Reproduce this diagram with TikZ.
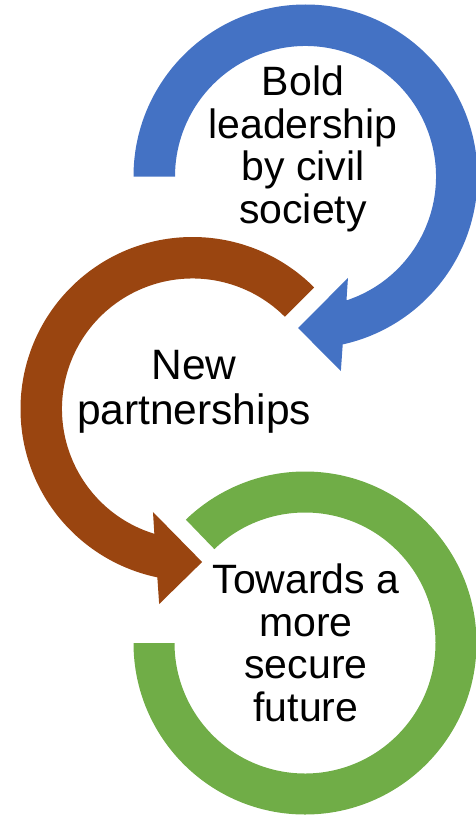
\documentclass[tikz,border=0pt]{standalone}
\usepackage{fontspec}
\setmainfont{Liberation Sans}
\definecolor{arrblue}{HTML}{4472C4}
\definecolor{arrbrown}{HTML}{9A4510}
\definecolor{arrgreen}{HTML}{70AD47}
\tikzset{lbl/.style={align=center, inner sep=0pt, anchor=north, text=black, font=\fontsize{41}{42.5}\selectfont},
  lblbig/.style={lbl, font=\fontsize{42.5}{45}\selectfont}}
\begin{document}
\begin{tikzpicture}[x=1pt,y=1pt]
\useasboundingbox (0,0) rectangle (476,-816);
\coordinate (cb) at (305.5,-176.5);
\coordinate (cr) at (192.5,-409);
\coordinate (cg) at (305,-643);
% blue circular arrow (clockwise)
\fill[arrblue] ([shift={(180:172)}]cb) arc[start angle=180,end angle=-77.5,radius=172]
  -- ([shift={(-79.7:197.7)}]cb) -- ([shift={(-92.8:151.7)}]cb) -- ([shift={(-67.3:110)}]cb)
  -- ([shift={(-71.7:130.5)}]cb) arc[start angle=-71.7,end angle=180,radius=130.5] -- cycle;
% brown circular arrow (counter-clockwise)
\fill[arrbrown] ([shift={(45:172)}]cr) arc[start angle=45,end angle=258.2,radius=172]
  -- ([shift={(260.3:197.9)}]cr) -- ([shift={(273.6:153.3)}]cr) -- ([shift={(249:110.3)}]cr)
  -- ([shift={(253:130.5)}]cr) arc[start angle=253,end angle=45,radius=130.5] -- cycle;
% green open ring
\fill[arrgreen] ([shift={(180:171.5)}]cg) arc[start angle=180,end angle=494,radius=171.5]
  -- ([shift={(134:130.5)}]cg) arc[start angle=494,end angle=180,radius=130.5] -- cycle;
\node[lbl] (tb) at (303,-66) {Bold\\leadership\\by civil\\society};
\node[lblbig] (tr) at (194,-350.5) {New\\partnerships};
\node[lbl] (tg) at (306,-564) {Towards a\\more\\secure\\future};
\end{tikzpicture}
\end{document}
